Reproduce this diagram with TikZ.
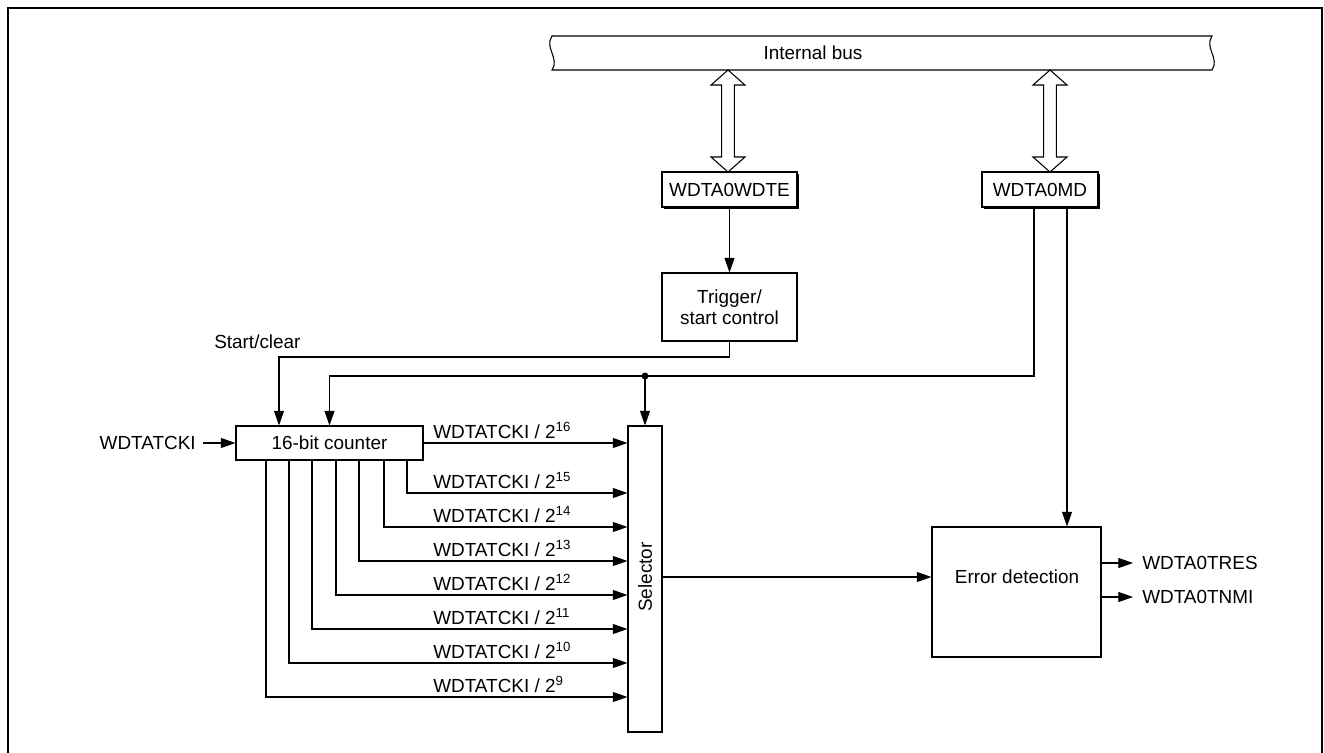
\documentclass[tikz,border=0pt]{standalone}
\usepackage{fontspec}
\setmainfont{Liberation Sans}
\usetikzlibrary{arrows.meta,shadows}

\begin{document}
\begin{tikzpicture}[x=0.75pt,y=-0.75pt,font=\fontsize{14.2}{17}\selectfont,
  blk/.style={draw,line width=0.8pt,fill=white,inner sep=0pt,align=center},
  reg/.style={blk,drop shadow={shadow xshift=1.6pt,shadow yshift=-1.6pt,fill=black,opacity=1}},
  lbl/.style={anchor=base west,inner sep=0pt},
  wire/.style={line width=0.8pt},
  sig/.style={wire,-{Triangle[length=11pt,width=7.5pt]}}]
  \useasboundingbox (0,0) rectangle (1324,753);
  \draw[line width=1.6pt] (8,760) -- (8,8) -- (1322,8) -- (1322,760);

  % internal bus
  \draw[wire,fill=white] (552,36) -- (1212,36) .. controls (1204,48) and (1220,58) .. (1212,70)
    -- (552,70) .. controls (560,58) and (544,48) .. (552,36) -- cycle;
  \node (bus) at (813,53) {Internal bus};
  \foreach \c in {728,1050}
    \draw[wire,fill=white] (\c,70) -- ++(17,15) -- ++(-10.7,0) -- (\c+6.3,157) -- ++(10.7,0)
      -- (\c,172) -- ++(-17,-15) -- ++(10.7,0) -- (\c-6.3,85) -- ++(-10.7,0) -- cycle;

  % registers and blocks
  \node[reg,minimum width=101.25pt,minimum height=26.25pt] (wdte) at (729.5,189.5) {WDTA0WDTE};
  \node[reg,minimum width=87pt,minimum height=26.25pt] (md) at (1040,189.5) {WDTA0MD};
  \node[blk,minimum width=101.25pt,minimum height=51pt,font=\fontsize{14.2}{15.75}\selectfont] (trig) at (729.5,307) {Trigger/\\start control};
  \node[blk,minimum width=140.25pt,minimum height=25.5pt] (cnt) at (329.5,443) {16-bit counter};
  \node[blk,minimum width=25.5pt,minimum height=229.5pt] (sel) at (645,579) {};
    \node[rotate=90] (sellbl) at (645,577) {Selector};
  \node[blk,minimum width=126.75pt,minimum height=97.5pt] (err) at (1016.5,592) {};
    \node (errlbl) at (1017,577) {Error detection};

  % control paths
  \draw[sig] (wdte) -- (trig);
  \coordinate (sc) at (279,357);
  \draw[sig] (trig.south) |- (sc) -- (sc |- cnt.north);
  \node[anchor=west,inner sep=0pt] (sclbl) at (214,342) {Start/clear};
  \coordinate (dot) at (645,376);
  \draw[wire] ([xshift=-4.5pt]md.south) |- (dot);
  \fill (dot) circle (2.6pt);
  \draw[sig] (dot) -- (sel.north);
  \draw[sig] (dot) -| (cnt.north);
  \draw[sig] ([xshift=20.25pt]md.south) -- ([xshift=20.25pt]md.south |- err.north);

  % counter outputs
  \node[anchor=east,inner sep=0pt] (clk) at (196,443) {WDTATCKI};
  \draw[sig] ([xshift=5.25pt]clk.east) -- (cnt.west);
  \draw[sig] (cnt.east) -- (cnt.east -| sel.west);
  \node[lbl] (d16) at (433,438) {WDTATCKI / 2\textsuperscript{16}};
  \foreach \x/\y/\e in {407/493/15,384/527/14,359/561/13,336/595/12,312/629/11,289/663/10,266/697/9}{
    \draw[sig] (\x,0 |- cnt.south) |- (sel.west |- 0,\y);
    \node[lbl] (d\e) at (433,\y-5) {WDTATCKI / 2\textsuperscript{\e}};
  }

  % error detection
  \draw[sig] (sel.east |- 0,577) -- (err.west |- 0,577);
  \node[anchor=west,inner sep=0pt] (tres) at (1142,563) {WDTA0TRES};
  \node[anchor=west,inner sep=0pt] (tnmi) at (1142,597) {WDTA0TNMI};
  \draw[sig] (err.east |- tres.west) -- ([xshift=-6.75pt]tres.west);
  \draw[sig] (err.east |- tnmi.west) -- ([xshift=-6.75pt]tnmi.west);
\end{tikzpicture}
\end{document}
